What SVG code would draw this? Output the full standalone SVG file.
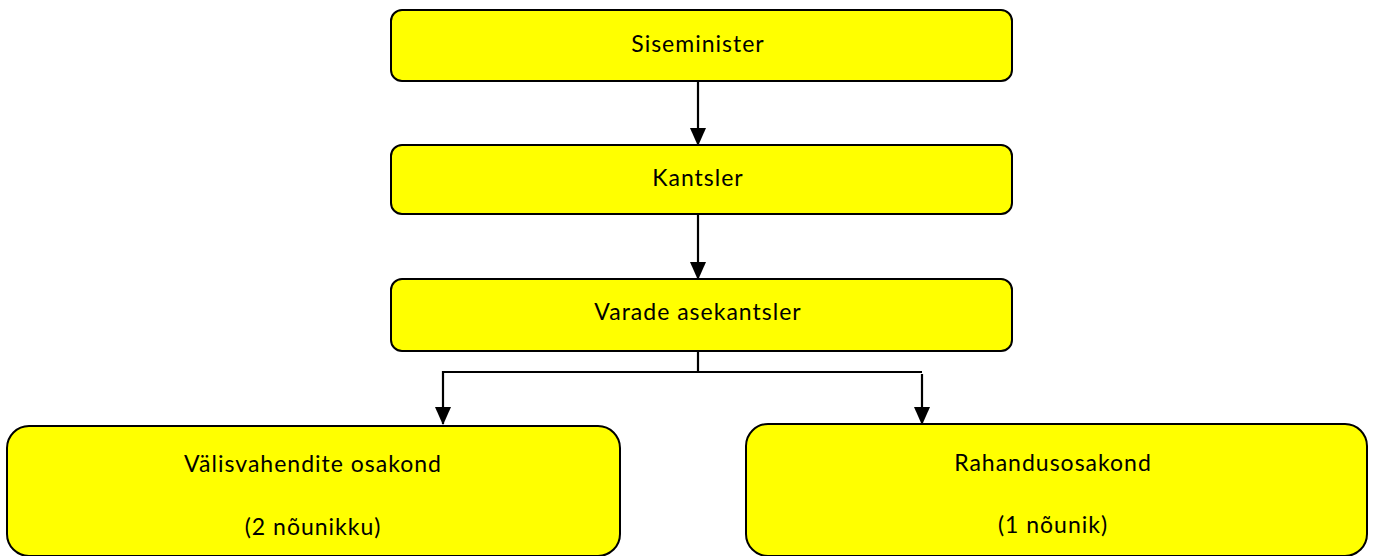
<svg xmlns="http://www.w3.org/2000/svg" width="1373" height="556" viewBox="0 0 1373 556">
<defs>
<style>
.box{fill:#ffff00;stroke:#000;stroke-width:2}
.t{font-family:Lato,"Open Sans","Liberation Sans",sans-serif;font-size:23px;fill:#000;text-anchor:middle;letter-spacing:1px}
.c{stroke:#000;stroke-width:2.2;fill:none}
</style>
<marker id="ah" markerWidth="18" markerHeight="16" refX="17" refY="8" orient="auto" markerUnits="userSpaceOnUse">
<path d="M0,0 L18,8 L0,16 Z" fill="#000"/>
</marker>
</defs>
<rect width="1373" height="556" fill="#fff"/>
<g id="connectors">
<line class="c" x1="698" y1="82" x2="698" y2="145" marker-end="url(#ah)"/>
<line class="c" x1="698" y1="215" x2="698" y2="279" marker-end="url(#ah)"/>
<polyline class="c" points="698,352 698,372 922,372"/>
<line class="c" x1="698" y1="372" x2="443" y2="372"/>
<line class="c" x1="443" y1="371" x2="443" y2="424" marker-end="url(#ah)"/>
<line class="c" x1="922" y1="374" x2="922" y2="424" marker-end="url(#ah)"/>
</g>
<g id="siseminister">
<rect class="box" x="391" y="10" width="621" height="71" rx="11"/>
<text class="t" x="698" y="52">Siseminister</text>
</g>
<g id="kantsler">
<rect class="box" x="391" y="145" width="621" height="69" rx="11"/>
<text class="t" x="698" y="186">Kantsler</text>
</g>
<g id="varade">
<rect class="box" x="391" y="279" width="621" height="72" rx="11"/>
<text class="t" x="698" y="320">Varade asekantsler</text>
</g>
<g id="valisvahendite">
<rect class="box" x="7" y="426" width="613" height="130" rx="22"/>
<text class="t" x="313" y="472">Välisvahendite osakond</text>
<text class="t" x="313" y="535">(2 nõunikku)</text>
</g>
<g id="rahandus">
<rect class="box" x="746" y="424" width="621" height="132" rx="22"/>
<text class="t" x="1053" y="471">Rahandusosakond</text>
<text class="t" x="1053" y="533">(1 nõunik)</text>
</g>
</svg>
